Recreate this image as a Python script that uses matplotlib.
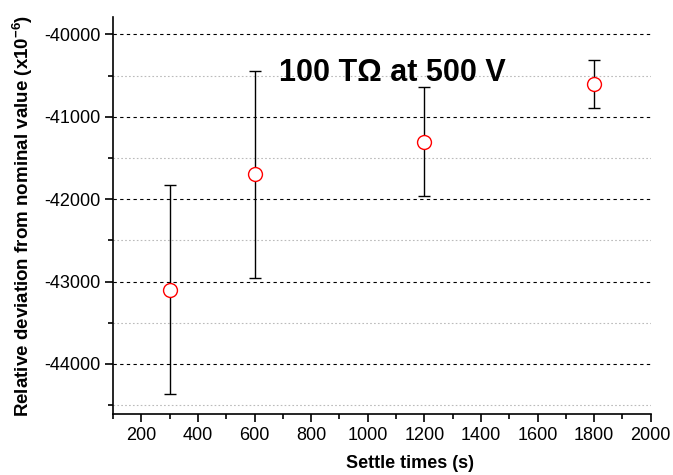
import matplotlib
matplotlib.use("Agg")
import matplotlib.pyplot as plt
from matplotlib.ticker import MultipleLocator

plt.rcParams['font.family'] = ['Liberation Sans', 'DejaVu Sans']
plt.rcParams['mathtext.fontset'] = 'custom'
plt.rcParams['mathtext.rm'] = 'Liberation Sans'
plt.rcParams['mathtext.bf'] = 'Liberation Sans:bold'
plt.rcParams['axes.unicode_minus'] = False

settle_times = [300, 600, 1200, 1800]
deviation = [-43100, -41700, -41300, -40600]
errors = [1270, 1260, 665, 290]

fig = plt.figure(figsize=(6.73, 4.75), dpi=100)
ax = fig.add_axes([0.168, 0.128, 0.799, 0.836])

ax.errorbar(settle_times, deviation, yerr=errors, fmt='none', ecolor='black',
            elinewidth=1, capsize=4, capthick=1, zorder=3)
ax.plot(settle_times, deviation, 'o', markersize=10, markerfacecolor='white',
        markeredgecolor='red', markeredgewidth=1, linestyle='none', zorder=4)

ax.set_xlim(100, 2000)
ax.set_ylim(-44610, -39790)
ax.xaxis.set_major_locator(MultipleLocator(200))
ax.xaxis.set_minor_locator(MultipleLocator(100))
ax.yaxis.set_major_locator(MultipleLocator(1000))
ax.yaxis.set_minor_locator(MultipleLocator(500))

ax.grid(which='major', axis='y', linestyle=(0, (3, 3)), color='black', linewidth=0.8)
ax.grid(which='minor', axis='y', linestyle=(0, (1.5, 2)), color='#bbbbbb', linewidth=0.8)
ax.set_axisbelow(True)

for s in ['top', 'right']:
    ax.spines[s].set_visible(False)
for s in ['left', 'bottom']:
    ax.spines[s].set_linewidth(1.2)

ax.tick_params(which='major', direction='out', length=6, width=1.2, labelsize=13, pad=3)
ax.tick_params(which='minor', direction='out', length=3.5, width=1.2)

ax.set_xlabel('Settle times (s)', fontsize=13, fontweight='bold')
ax.xaxis.set_label_coords((410 - 113) / 538, -(463 - 414) / 397, transform=ax.transAxes)
ax.xaxis.label.set_va('center')
ax.set_ylabel(r'Relative deviation from nominal value (x10$^{\mathbf{-6}}$)',
              fontsize=13.5, fontweight='bold')
ax.yaxis.set_label_coords(-(113 - 22) / 538, 0.5, transform=ax.transAxes)
ax.yaxis.label.set_va('center')

ax.text(0.520, 0.859, '100 TΩ at 500 V', transform=ax.transAxes, fontsize=22,
        fontweight='bold', ha='center', va='center')

fig.savefig('out.png', dpi=100)
